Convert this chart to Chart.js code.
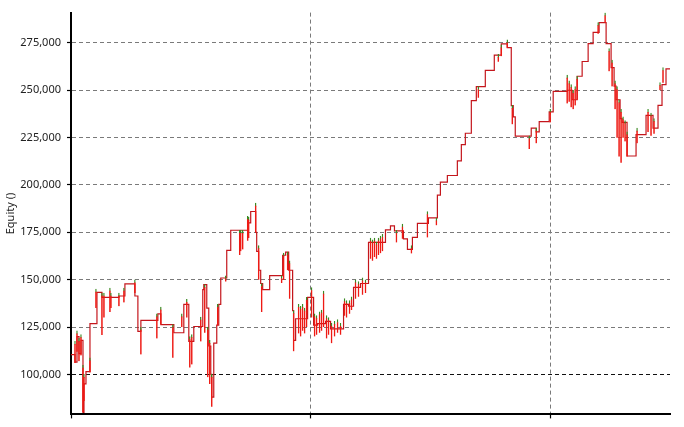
<!DOCTYPE html>
<html>
<head>
<meta charset="utf-8">
<script src="https://cdn.jsdelivr.net/npm/chart.js@4/dist/chart.umd.min.js"></script>
<style>
  html, body { margin: 0; padding: 0; background: #fff; }
  #wrap { width: 684px; height: 427px; }
</style>
</head>
<body>
<div id="wrap"><canvas id="equityChart" width="684" height="427"></canvas></div>
<script>
// --- data ---
// bar index (x) where the equity level changes, and the level from there on
const stepX = [0,4,6,8,10,12,13,15,19,26,31,48,54,64,67,70,87,90,103,113,118,123,132,133,136,138,140,141,143,146,148,150,156,160,177,180,185,186,188,190,192,199,212,215,218,222,223,225,237,243,247,255,260,273,278,283,290,298,315,320,324,333,337,342,347,358,367,370,377,387,391,395,401,406,415,424,431,437,441,443,445,461,466,469,479,483,497,502,507,512,518,523,529,536,541,544,546,550,552,557,566,576,583,588,592,596,600];
const stepEquity = [110500,106500,120000,111000,118000,80000,95000,101500,126800,143300,140700,141400,147800,141400,122700,128500,132000,126300,122000,137000,117500,125300,144800,147400,135000,115000,100000,88000,116500,126000,137000,150900,165500,176100,180000,186000,175000,165000,155000,148000,144800,152200,162900,164600,155000,133700,118000,129400,140700,126000,126800,128000,124000,137000,136000,146000,148000,169700,176300,178400,175800,171600,166000,172300,179700,182600,194700,201500,205000,212700,221300,227300,244500,251900,260500,268500,274500,272500,241900,236000,225800,230000,228000,233400,238600,249400,250000,245000,257400,265200,274600,280600,285700,274600,262000,252200,245000,235000,233000,215300,226600,236800,230000,242000,253000,261300,261300];

// intrabar swings: position, low, high
const wickX    = [4,6,8,10,12,13,19,25,31,33,39,40,48,53,64,70,86,90,102,111,116,119,121,130,134,137,139,141,147,155,169,170,172,177,178,185,188,191,211,213,217,219,223,228,230,232,234,236,241,244,246,249,251,253,256,258,261,264,267,270,274,276,279,281,285,288,292,295,300,302,304,306,308,310,312,326,332,341,357,366,408,428,431,437,442,459,466,480,497,499,501,503,505,507,528,535,539,542,545,547,549,551,553,555,557,567,578,581,584,590,593];
const wickLow  = [106000,112000,107000,110000,80000,86000,101000,135000,120800,130000,133000,135000,136000,138000,143000,110500,119000,126300,108800,125000,130000,103600,105300,117400,122000,98500,95000,83000,126000,149000,163000,165000,166000,170600,172000,175000,150000,133000,148300,150000,155000,140000,112200,121600,120000,123000,121600,125000,130000,120000,121000,122000,123000,125000,119000,121000,116500,120000,122000,121000,131000,130000,132000,134000,140000,141000,142000,143000,161000,160000,162000,161000,163000,164000,165000,169700,171600,163900,172300,178700,246000,265000,268000,272500,232000,219000,222000,233000,243000,244000,241000,240000,242000,245000,279900,285700,260000,252000,240000,225000,215000,211800,225000,223000,215000,222000,228000,226000,227000,250000,254000];
const wickHigh = [117500,123000,119000,121000,105000,100000,108800,145000,143000,143000,145600,143000,143000,145600,150000,125000,132000,135600,126300,132000,139700,120000,121000,130300,147400,125000,118000,100000,137000,152000,176000,176000,176000,183500,183000,190400,168000,148000,152200,164000,164600,160000,133700,137000,136000,137000,135000,140700,145900,132000,131000,133000,134000,144000,131000,130000,127000,128000,129000,127000,140000,139000,139000,141000,150000,149000,151000,150000,172000,171000,172000,170000,172000,173000,174000,176000,179400,168000,186000,182600,252000,269000,274000,276600,242000,226000,230000,240000,258000,255000,253000,250000,252000,257400,285700,290900,272000,266000,255000,252000,245000,240000,236000,234000,228000,230000,240000,238000,235000,254000,262000];

// axis ticks
const yTicks = [100000,125000,150000,175000,200000,225000,250000,275000];
const xTicks = [0,240,480];

const stepPoints = stepX.map((x, i) => ({ x, y: stepEquity[i] }));
const wickBars   = wickX.map((x, i) => ({ x, y: [wickLow[i], wickHigh[i]] }));

const ctx = document.getElementById('equityChart').getContext('2d');

new Chart(ctx, {
  type: 'bar',
  data: {
    datasets: [
      {
        type: 'bar',
        label: 'Range',
        data: wickBars,
        backgroundColor: '#ee1a14',
        borderColor: '#3a8a22',
        borderWidth: { top: 3, bottom: 0, left: 0, right: 0 },
        borderSkipped: false,
        barThickness: 1.5,
        order: 0
      },
      {
        type: 'line',
        label: 'Equity',
        data: stepPoints,
        stepped: true,
        borderColor: '#c4161c',
        borderWidth: 1.2,
        pointRadius: 0,
        fill: false,
        order: 1
      }
    ]
  },
  options: {
    responsive: false,
    animation: false,
    devicePixelRatio: 1,
    layout: { padding: { top: 12, right: 14, bottom: 0, left: 4 } },
    plugins: { legend: { display: false }, tooltip: { enabled: false } },
    scales: {
      x: {
        type: 'linear',
        min: 0,
        max: 600,
        offset: false,
        afterBuildTicks: s => { s.ticks = xTicks.map(v => ({ value: v })); },
        ticks: { display: false },
        grid: {
          offset: false,
          color: '#7a7a7a',
          tickLength: 4,
          tickColor: '#000',
          tickWidth: 1.2
        },
        border: { display: true, color: '#000', width: 2, dash: [4, 3] }
      },
      y: {
        min: 78900,
        max: 291000,
        afterBuildTicks: s => { s.ticks = yTicks.map(v => ({ value: v })); },
        afterFit: s => { s.width = 67; },
        ticks: {
          color: '#222',
          padding: 6,
          font: { family: 'Noto Sans', size: 11 },
          callback: v => v.toLocaleString('en-US')
        },
        grid: {
          color: c => (c.tick && c.tick.value === 100000) ? '#111' : '#7a7a7a',
          tickLength: 4,
          tickColor: '#000',
          tickWidth: 1.2
        },
        border: { display: true, color: '#000', width: 2, dash: [4, 3] },
        title: {
          display: true,
          text: 'Equity ()',
          color: '#222',
          padding: { top: 0, bottom: 2 },
          font: { family: 'Noto Sans', size: 11 }
        }
      }
    }
  }
});
</script>
</body>
</html>
